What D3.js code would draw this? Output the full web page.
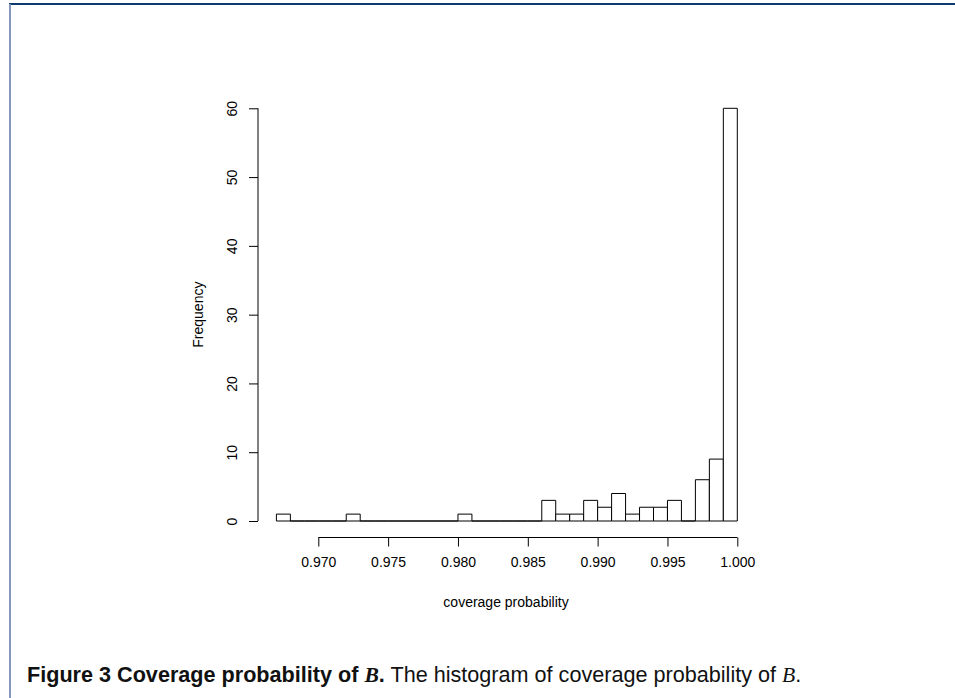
<!DOCTYPE html>
<html>
<head>
<meta charset="utf-8">
<script src="https://cdn.jsdelivr.net/npm/d3@7"></script>
<style>
  body { margin: 0; background: #fff; }
  text { font-family: "Liberation Sans", Arial, sans-serif; }
</style>
</head>
<body>
<div id="chart"></div>
<script>
var svg_width = 955;
var svg_height = 698;

// Histogram data: lower edge of each bin (width 0.001) and counts
var binLower = [0.967, 0.968, 0.969, 0.970, 0.971, 0.972, 0.973, 0.974, 0.975, 0.976, 0.977,
                0.978, 0.979, 0.980, 0.981, 0.982, 0.983, 0.984, 0.985, 0.986, 0.987, 0.988,
                0.989, 0.990, 0.991, 0.992, 0.993, 0.994, 0.995, 0.996, 0.997, 0.998, 0.999];
var counts   = [1, 0, 0, 0, 0, 1, 0, 0, 0, 0, 0,
                0, 0, 1, 0, 0, 0, 0, 0, 3, 1, 1,
                3, 2, 4, 1, 2, 2, 3, 0, 6, 9, 60];
var binWidth = 0.001;
var xTicks = [0.970, 0.975, 0.980, 0.985, 0.990, 0.995, 1.000];
var yTicks = [0, 10, 20, 30, 40, 50, 60];

var bins = binLower.map(function(d, i) { return { x0: d, x1: d + binWidth, n: counts[i] }; });

var svg = d3.select("#chart")
  .append("svg")
  .attr("width", svg_width)
  .attr("height", svg_height);

// page frame
svg.append("line")
  .attr("x1", 9).attr("x2", svg_width).attr("y1", 4).attr("y2", 4)
  .attr("stroke", "#0d3b6e").attr("stroke-width", 2);
svg.append("line")
  .attr("x1", 10).attr("x2", 10).attr("y1", 4).attr("y2", svg_height)
  .attr("stroke", "#8797ba").attr("stroke-width", 2);

// Scales
var xScale = d3.scaleLinear().domain([0.970, 1.000]).range([318.3, 737.3]);
var yScale = d3.scaleLinear().domain([0, 60]).range([521, 108.3]);

// bars (as closed paths so empty bins still draw on the baseline)
svg.selectAll("path.bar")
  .data(bins)
  .enter()
  .append("path")
  .attr("class", "bar")
  .attr("d", function(d) {
    var a = xScale(d.x0), b = xScale(d.x1), y0 = yScale(0), y1 = yScale(d.n);
    return "M" + a + "," + y0 + "V" + y1 + "H" + b + "V" + y0 + "Z";
  })
  .attr("fill", "#fff")
  .attr("stroke", "#000")
  .attr("stroke-width", 1);

// x axis
var xAxis = svg.append("g")
  .attr("transform", "translate(0,537.5)")
  .call(d3.axisBottom(xScale).tickValues(xTicks).tickFormat(d3.format(".3f")).tickSize(9).tickPadding(11));
xAxis.select(".domain").remove();
xAxis.append("line")
  .attr("x1", xScale(xTicks[0])).attr("x2", xScale(xTicks[xTicks.length - 1]))
  .attr("stroke", "#000");
xAxis.selectAll("text").attr("font-size", 14).attr("font-family", "Liberation Sans, Arial, sans-serif").attr("fill", "#000");
xAxis.selectAll(".tick line").attr("stroke", "#000");

// y axis
var yAxis = svg.append("g")
  .attr("transform", "translate(258,0)")
  .call(d3.axisLeft(yScale).tickValues(yTicks).tickSize(9));
yAxis.select(".domain").remove();
yAxis.append("line")
  .attr("y1", yScale(yTicks[0])).attr("y2", yScale(yTicks[yTicks.length - 1]))
  .attr("stroke", "#000");
yAxis.selectAll(".tick line").attr("stroke", "#000");
yAxis.selectAll("text")
  .attr("font-size", 14)
  .attr("font-family", "Liberation Sans, Arial, sans-serif")
  .attr("fill", "#000")
  .attr("x", null)
  .attr("text-anchor", "middle")
  .attr("transform", "translate(-26,0) rotate(-90)")
  .attr("y", 0)
  .attr("dy", "0.35em");

// axis titles
svg.append("text")
  .attr("x", 506)
  .attr("y", 607)
  .attr("text-anchor", "middle")
  .attr("font-size", 14)
  .text("coverage probability");

svg.append("text")
  .attr("transform", "translate(203," + yScale(30) + ") rotate(-90)")
  .attr("text-anchor", "middle")
  .attr("font-size", 14)
  .text("Frequency");

// caption
var cap = svg.append("text")
  .attr("x", 27)
  .attr("y", 682)
  .attr("font-size", 18)
  .attr("fill", "#111");
cap.append("tspan").attr("font-weight", "bold").text("Figure 3  Coverage probability of ");
cap.append("tspan").attr("font-weight", "bold").attr("font-style", "italic")
  .attr("font-family", "Liberation Serif, serif").text("B");
cap.append("tspan").attr("font-weight", "bold").text(".");
cap.append("tspan").text(" The histogram of coverage probability of ");
cap.append("tspan").attr("font-style", "italic").attr("font-family", "Liberation Serif, serif").text("B");
cap.append("tspan").text(".");

// stretch caption font so it spans the same width as the original
var capW = cap.node().getComputedTextLength();
cap.attr("font-size", 18 * 775 / capW);
</script>
</body>
</html>
